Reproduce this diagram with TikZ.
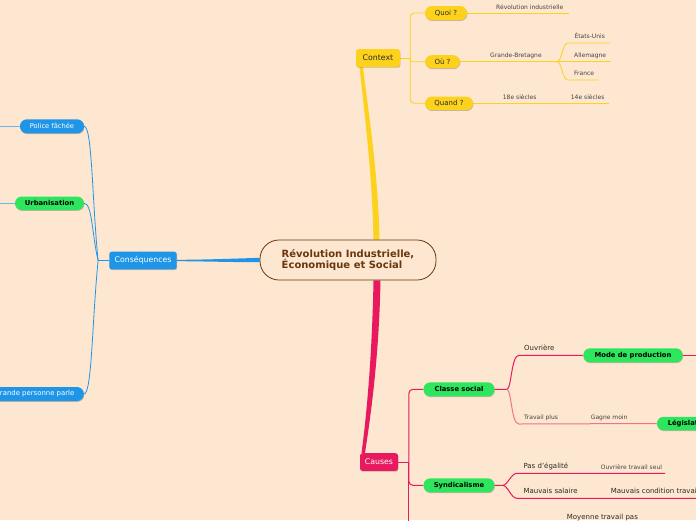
\documentclass[tikz,border=0pt]{standalone}
\usepackage{fontspec}
\setmainfont{DejaVu Sans}
\usetikzlibrary{calc,shadows,backgrounds}
\definecolor{bgpeach}{HTML}{FDE7D0}
\definecolor{rootbrown}{HTML}{6A3610}
\definecolor{mmyellow}{HTML}{FCD21D}
\definecolor{mmgreen}{HTML}{2DE65E}
\definecolor{mmblue}{HTML}{1F95E8}
\definecolor{mmbluel}{HTML}{6DB6EC}
\definecolor{mmpink}{HTML}{E8195E}
\definecolor{mmpinkl}{HTML}{F2718F}
\definecolor{textdark}{HTML}{2A2A2A}
\definecolor{textgray}{HTML}{444444}
\tikzset{
  softshadow/.style={drop shadow={shadow xshift=0.4pt,shadow yshift=-0.9pt,opacity=0.22,fill=black}},
  rootbox/.style={draw=rootbrown,line width=0.8pt,fill=bgpeach,rounded corners=19pt,
    minimum width=176pt,minimum height=40pt,align=left,text=rootbrown,
    font=\fontsize{10}{11}\selectfont\bfseries},
  mainbox/.style={softshadow,rounded corners=2.5pt,minimum height=17.6pt,inner sep=0pt,
    font=\fontsize{7.8}{9}\selectfont},
  pill/.style={softshadow,rounded corners=6.8pt,minimum height=14pt,inner sep=0pt},
  ypill/.style={pill,fill=mmyellow,text=textdark,font=\fontsize{7}{8}\selectfont},
  gpill/.style={pill,fill=mmgreen,text=black,font=\fontsize{6.8}{8}\selectfont\bfseries},
  bpill/.style={pill,fill=mmblue,text=white,font=\fontsize{6.7}{8}\selectfont},
  lbl/.style={anchor=base west,inner sep=0pt,text=textgray,font=\fontsize{6}{7}\selectfont},
  lblbig/.style={lbl,text=textdark,font=\fontsize{7}{8}\selectfont},
  yline/.style={draw=mmyellow,line width=0.8pt},
  bline/.style={draw=mmblue,line width=0.8pt},
  pline/.style={draw=mmpink,line width=1pt},
}

\begin{document}
\begin{tikzpicture}[x=1pt,y=-1pt]
    \useasboundingbox (0,0) rectangle (696,520);

    % central topic and main topics
    \node[rootbox] (root) at (348,260) {Révolution Industrielle,\\Économique et Social};
    \node[mainbox,fill=mmyellow,text=textdark,minimum width=44pt] (ctx) at (378,58) {Context};
    \node[mainbox,fill=mmblue,text=white,minimum width=67.4pt] (cons) at (143,260.5) {Conséquences};
    \node[mainbox,fill=mmpink,text=white,minimum width=38pt] (causes) at (379,462) {Causes};

    % Context
    \node[ypill,minimum width=42pt] (quoi) at (446,13) {Quoi ?};
    \node[ypill,minimum width=35pt,minimum height=13pt] (ou) at (442.5,61.7) {Où ?};
    \node[ypill,minimum width=48pt,minimum height=13.5pt] (quand) at (449,103.3) {Quand ?};
    \node[lbl] (revInd) at (496,9) {Révolution industrielle};
    \node[lbl] (gb) at (490,57) {Grande-Bretagne};
    \node[lbl] (usa) at (574.3,38) {États-Unis};
    \node[lbl] (allem) at (574,57) {Allemagne};
    \node[lbl] (fra) at (574,75) {France};
    \node[lbl] (s18) at (502.7,99) {18e siècles};
    \node[lbl] (s14) at (570.7,99) {14e siècles};

    % Conséquences
    \node[bpill,minimum width=64pt] (police) at (52,126.3) {Police fâchée};
    \node[gpill,minimum width=69pt,minimum height=13.5pt] (urban) at (49.5,203.3) {Urbanisation};
    \node[bpill,anchor=east,inner xsep=9.5pt,font=\fontsize{6.9}{8}\selectfont] (grande) at (84,394) {Grande personne parle};

    % Causes
    \node[gpill,minimum width=71pt] (classe) at (459,389.3) {Classe social};
    \node[gpill,minimum width=71pt] (synd) at (459,485.3) {Syndicalisme};
    \node[gpill,minimum width=99.4pt] (mode) at (633,355.3) {Mode de production};
    \node[gpill,anchor=west,minimum width=64pt,minimum height=13.5pt] (legis) at (656.7,423.5) {Législation};
    \node[lblbig] (ouvr) at (524,350.9) {Ouvrière};
    \node[lbl] (travPlus) at (524,419.3) {Travail plus};
    \node[lbl] (gagne) at (590.7,419.3) {Gagne moin};
    \node[lblbig] (egal) at (523.3,468.6) {Pas d'égalité};
    \node[lbl] (ouvSeul) at (600.7,469) {Ouvrière travail seul};
    \node[lblbig] (salaire) at (523.3,493.3) {Mauvais salaire};
    \node[lblbig] (condTrav) at (610.7,493.3) {Mauvais condition travail};
    \node[lblbig] (moyenne) at (566.7,519.9) {Moyenne travail pas};

    \begin{scope}[on background layer]
        \fill[bgpeach] (0,0) rectangle (696,520);

        % tapered branches from the centre
        \fill[mmyellow] ($(root.north)+(25.5,0)$) .. controls (372,170) and (364,110) .. ($(ctx.south)+(-18.5,0)$)
            -- ($(ctx.south)+(-15,0)$) .. controls (368,110) and (378,170) .. ($(root.north)+(31.5,0)$) -- cycle;
        \fill[mmpink] ($(root.south)+(25.5,0)$) .. controls (372,360) and (366,420) .. ($(causes.north)+(-17.5,0)$)
            -- ($(causes.north)+(-14,0)$) .. controls (370,420) and (379,360) .. ($(root.south)+(32.5,0)$) -- cycle;
        \fill[mmblue] ($(root.west)+(0,-2.2)$) .. controls (230,258.8) and (200,259.8) .. ($(cons.east)+(0,-0.7)$)
            -- ($(cons.east)+(0,0.7)$) .. controls (200,261.2) and (230,262.2) .. ($(root.west)+(0,2.2)$) -- cycle;

        % Context branches
        \coordinate (xJ) at ($(ctx.east)+(10,0)$);
        \draw[yline] (ctx.east) -- (xJ);
        \draw[yline,rounded corners=4pt] (xJ) |- (quoi.west);
        \draw[yline,rounded corners=4pt] (xJ) |- (quand.west);
        \draw[yline,rounded corners=2pt] (xJ) |- (ou.west);
        \coordinate (quoiEnd) at (569,13);
        \coordinate (quandEnd) at (608.5,103.3);
        \coordinate (ouJ) at (557,61.7);
        \coordinate (allemEnd) at (611,61.7);
        \coordinate (usaS) at (568,43);
        \coordinate (usaEnd) at (610,43);
        \coordinate (fraS) at (568,80);
        \coordinate (fraEnd) at (598.5,80);
        \draw[yline] (quoi.east) -- (quoiEnd);
        \draw[yline] (quand.east) -- (quandEnd);
        \draw[yline] (ou.east) -- (allemEnd);
        \draw[yline] (ouJ) .. controls +(5,0) and +(-6,0) .. (usaS) -- (usaEnd);
        \draw[yline] (ouJ) .. controls +(5,0) and +(-6,0) .. (fraS) -- (fraEnd);

        % Conséquences branches
        \coordinate (bJ) at ($(cons.west)+(-11,0)$);
        \draw[bline] (cons.west) -- (bJ);
        \draw[bline] (bJ) .. controls +(-6,-60) and +(8,0) .. (police.east);
        \draw[bline] (bJ) .. controls +(-6,-25) and +(8,0) .. (urban.east);
        \draw[bline] (bJ) .. controls +(-6,60) and +(8,0) .. (grande.east);
        \coordinate (policeEnd) at (0,126.3);
        \coordinate (urbanEnd) at (0,203.3);
        \draw[draw=mmbluel,line width=0.9pt] (police.west) -- (policeEnd);
        \draw[draw=mmbluel,line width=0.9pt] (urban.west) -- (urbanEnd);

        % Causes branches
        \coordinate (cJ) at ($(causes.east)+(10.7,0)$);
        \coordinate (cDown) at ($(cJ)+(0,80)$);
        \draw[pline] (causes.east) -- (cJ);
        \draw[pline,rounded corners=4pt] (cJ) |- (classe.west);
        \draw[pline,rounded corners=4pt] (cJ) |- (synd.west);
        \draw[pline] (cJ) -- (cDown);

        \coordinate (clJ) at ($(classe.east)+(12,0)$);
        \coordinate (ouvS) at (519,355.3);
        \coordinate (travS) at (519,424);
        \coordinate (modeEnd) at (700,355.3);
        \draw[pline] (classe.east) -- (clJ) .. controls +(5,0) and +(-8,0) .. (ouvS) -- (mode.west);
        \draw[pline,draw=mmpinkl] (clJ) .. controls +(5,0) and +(-8,0) .. (travS) -- (legis.west);
        \draw[pline] (mode.east) -- (modeEnd);

        \coordinate (syJ) at ($(synd.east)+(8,0)$);
        \coordinate (egalS) at (517,473.3);
        \coordinate (egalEnd) at (665,473.3);
        \coordinate (salS) at (517,498.3);
        \coordinate (salEnd) at (700,498.3);
        \draw[pline] (synd.east) -- (syJ) .. controls +(5,0) and +(-6,0) .. (egalS) -- (egalEnd);
        \draw[pline] (syJ) .. controls +(5,0) and +(-6,0) .. (salS) -- (salEnd);
    \end{scope}
\end{tikzpicture}
\end{document}
